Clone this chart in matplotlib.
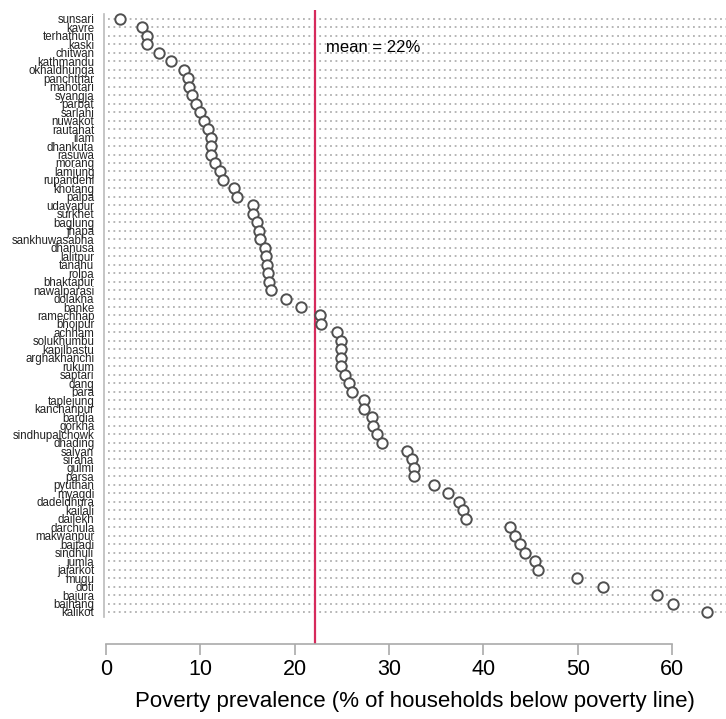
import matplotlib
matplotlib.use("Agg")
import matplotlib.pyplot as plt
import numpy as np

# districts, ordered top to bottom
districts = [
    "sunsari", "kavre", "terhathum", "kaski", "chitwan", "kathmandu",
    "okhaldhunga", "panchthar", "mahotari", "syangja", "parbat", "sarlahi",
    "nuwakot", "rautahat", "ilam", "dhankuta", "rasuwa", "morang", "lamjung",
    "rupandehi", "khotang", "palpa", "udayapur", "surkhet", "baglung", "jhapa",
    "sankhuwasabha", "dhanusa", "lalitpur", "tanahu", "rolpa", "bhaktapur",
    "nawalparasi", "dolakha", "banke", "ramechhap", "bhojpur", "achham",
    "solukhumbu", "kapilbastu", "arghakhanchi", "rukum", "saptari", "dang",
    "bara", "taplejung", "kanchanpur", "bardia", "gorkha", "sindhupalchowk",
    "dhading", "salyan", "siraha", "gulmi", "parsa", "pyuthan", "myagdi",
    "dadeldhura", "kailali", "dailekh", "darchula", "makwanpur", "baitadi",
    "sindhuli", "jumla", "jajarkot", "mugu", "doti", "bajura", "bajhang",
    "kalikot",
]

# poverty prevalence (% of households below poverty line)
poverty = [
    1.5, 3.8, 4.3, 4.3, 5.6, 6.9,
    8.3, 8.7, 8.8, 9.1, 9.5, 10.0,
    10.4, 10.8, 11.1, 11.1, 11.1, 11.5, 12.1,
    12.4, 13.6, 13.9, 15.6, 15.6, 16.0, 16.2,
    16.3, 16.9, 17.0, 17.1, 17.2, 17.3,
    17.5, 19.1, 20.7, 22.7, 22.8, 24.5,
    24.9, 24.9, 24.9, 24.9, 25.3, 25.8,
    26.1, 27.3, 27.3, 28.2, 28.3, 28.7,
    29.2, 31.9, 32.4, 32.6, 32.6, 34.8, 36.2,
    37.4, 37.8, 38.1, 42.8, 43.3, 43.9,
    44.4, 45.5, 45.8, 49.9, 52.7, 58.4, 60.1,
    63.7,
]

mean_value = 22.2
x_ticks = [0, 10, 20, 30, 40, 50, 60]

plt.rcParams["font.family"] = ["Liberation Sans", "DejaVu Sans"]

W, H = 726, 719
fig = plt.figure(figsize=(W / 100, H / 100), dpi=100)
# axes box in pixels: left 104, right 726, top 10, bottom 644
ax = fig.add_axes([104 / W, 1 - 644 / H, (726 - 104) / W, (644 - 10) / H])

y = np.arange(len(districts))

# dotted guide lines
ax.hlines(y, 0.2, 66, colors="#b0b0b0", linestyles=(0, (1, 2)), linewidth=1.3, zorder=1)

# mean line
ax.axvline(mean_value, color="#d62a5c", linewidth=1.6, zorder=2)
ax.text(23.3, 3.4, "mean = 22%", fontsize=12, va="center", ha="left")

ax.plot(poverty, y, "o", markersize=7.5, markerfacecolor="white",
        markeredgecolor="#505050", markeredgewidth=1.4, zorder=3)

ax.set_xlim(-0.21, 65.7)
ax.set_ylim(len(districts) - 1 + 3.78, -1.06)

ax.set_yticks(y)
ax.set_yticklabels(districts, fontsize=8.3)
ax.tick_params(axis="y", length=0, pad=7, labelcolor="#222222")

ax.set_xticks(x_ticks)
ax.tick_params(axis="x", length=8, width=1.2, color="#aaaaaa", labelsize=15.5, pad=3)
ax.set_xlabel("Poverty prevalence (% of households below poverty line)", fontsize=16, labelpad=8)

for s in ["top", "right"]:
    ax.spines[s].set_visible(False)
ax.spines["bottom"].set_bounds(0, 60)
ax.spines["bottom"].set_color("#aaaaaa")
ax.spines["bottom"].set_linewidth(1.2)
ax.spines["left"].set_bounds(-0.6, len(districts) - 0.4)
ax.spines["left"].set_color("#bbbbbb")
ax.spines["left"].set_linewidth(1.2)

fig.savefig("out.png", dpi=100)
